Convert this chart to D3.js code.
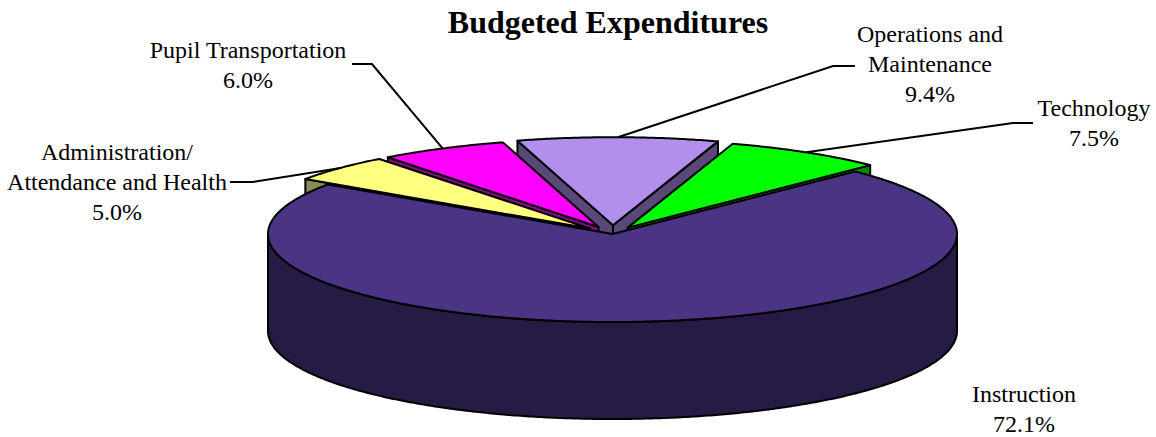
<!DOCTYPE html>
<html>
<head>
<meta charset="utf-8">
<script src="https://cdn.jsdelivr.net/npm/d3@7"></script>
<style>
  body { margin: 0; background: #ffffff; }
  svg { display: block; }
</style>
</head>
<body>
<svg id="chart" width="1156" height="437"></svg>
<script>
// ---- data ----
const categories = [
  "Administration/ Attendance and Health",
  "Pupil Transportation",
  "Operations and Maintenance",
  "Technology",
  "Instruction"
];
const labelLines = [
  ["Administration/", "Attendance and Health"],
  ["Pupil Transportation"],
  ["Operations and", "Maintenance"],
  ["Technology"],
  ["Instruction"]
];
const values = [5.0, 6.0, 9.4, 7.5, 72.1];

// ---- styling ----
const topColors  = ["#ffff80", "#ff00ff", "#b18fea", "#00ff00", "#4a3484"];
const sideColors = ["#8c8c50", "#8a008a", "#594878", "#008c00", "#261b45"];
const explode    = [0.09, 0.09, 0.10, 0.085, 0];

// ---- layout ----
const W = 1156, H = 437;
const cx = 612.5, cy = 234, rx = 344.5, ry = 88, depth = 97;
const START = -55.7 * Math.PI / 180;

// label anchors: first baseline, centre x, leader elbow + end
const labelLayout = [
  { x: 117,  y: 160, leader: [[253, 182], [230, 182]] },
  { x: 248,  y: 58,  leader: [[372, 64],  [352, 64]] },
  { x: 930,  y: 42,  leader: [[833, 66],  [855, 66]] },
  { x: 1094, y: 116, leader: [[1013, 123], [1033, 123]] },
  { x: 1024, y: 402, leader: null }
];
const lineGap = 30;

const svg = d3.select("#chart");

// projection of the tilted disc
const sx = d3.scaleLinear().domain([-1, 1]).range([cx - rx, cx + rx]);
const sy = d3.scaleLinear().domain([-1, 1]).range([cy - ry, cy + ry]);

const pie = d3.pie().sort(null).value(d => d)
  .startAngle(START).endAngle(START + 2 * Math.PI);
const arcs = pie(values).map((a, i) => {
  const mid = (a.startAngle + a.endAngle) / 2;
  const e = explode[i];
  return { ...a, i, mid, off: [e * Math.sin(mid), -e * Math.cos(mid)] };
});

function proj(angle, r, h, o) {
  return [sx(r * Math.sin(angle) + o[0]), sy(-r * Math.cos(angle) + o[1]) + h];
}
function arcPts(a0, a1, h, o) {
  const n = Math.max(2, Math.ceil(Math.abs(a1 - a0) / (Math.PI / 360)));
  const pts = [];
  for (let k = 0; k <= n; k++) {
    const a = a0 + (a1 - a0) * k / n;
    pts.push(proj(a, 1, h, o));
  }
  return pts;
}
const poly = pts => "M" + pts.map(p => p[0].toFixed(2) + "," + p[1].toFixed(2)).join("L") + "Z";

const gPie = svg.append("g");
const strokeW = 2;

function drawPoly(pts, fill) {
  gPie.append("path")
    .attr("d", poly(pts))
    .attr("fill", fill)
    .attr("stroke", "#000")
    .attr("stroke-width", strokeW)
    .attr("stroke-linejoin", "round");
}

function radialWall(a, angle) {
  return [proj(angle, 0, 0, a.off), proj(angle, 1, 0, a.off),
          proj(angle, 1, depth, a.off), proj(angle, 0, depth, a.off)];
}

const small = arcs.filter(a => a.i !== 4);
const big = arcs[4];

// radial walls that face the viewer, back to front
const walls = [];
small.forEach(a => {
  if (Math.cos(a.startAngle - Math.PI / 2) < 0) walls.push({ a, angle: a.startAngle });
  if (Math.cos(a.endAngle + Math.PI / 2) < 0) walls.push({ a, angle: a.endAngle });
});
walls.sort((p, q) => {
  const yp = proj(p.a.mid, 0.5, 0, p.a.off)[1];
  const yq = proj(q.a.mid, 0.5, 0, q.a.off)[1];
  return yp - yq;
});
walls.forEach(w => drawPoly(radialWall(w.a, w.angle), sideColors[w.a.i]));

// front rim wall of the large slice
{
  const a0 = Math.max(big.startAngle, Math.PI / 2);
  const a1 = Math.min(big.endAngle, 3 * Math.PI / 2);
  const topArc = arcPts(a0, a1, 0, big.off);
  const botArc = arcPts(a1, a0, depth, big.off);
  drawPoly(topArc.concat(botArc), sideColors[4]);
}

// top face of the large slice
drawPoly([proj(0, 0, 0, big.off)].concat(arcPts(big.startAngle, big.endAngle, 0, big.off)), topColors[4]);

// top faces of the exploded slices
small.forEach(a => {
  drawPoly([proj(0, 0, 0, a.off)].concat(arcPts(a.startAngle, a.endAngle, 0, a.off)), topColors[a.i]);
});

// ---- title ----
svg.append("text")
  .attr("x", 608).attr("y", 33)
  .attr("text-anchor", "middle")
  .attr("font-family", "'Liberation Serif', 'Times New Roman', serif")
  .attr("font-weight", "bold")
  .attr("font-size", 32)
  .attr("fill", "#000")
  .text("Budgeted Expenditures");

// ---- leader lines and labels ----
const fmt = d3.format(".1f");
arcs.forEach(a => {
  const L = labelLayout[a.i];
  if (L.leader) {
    const rim = proj(a.mid, 1, 0, a.off);
    svg.append("path")
      .attr("d", d3.line()([rim, L.leader[0], L.leader[1]]))
      .attr("fill", "none")
      .attr("stroke", "#000")
      .attr("stroke-width", 2);
  }
  const lines = labelLines[a.i].concat([fmt(values[a.i]) + "%"]);
  const t = svg.append("text")
    .attr("text-anchor", "middle")
    .attr("font-family", "'Liberation Serif', 'Times New Roman', serif")
    .attr("font-size", 24)
    .attr("fill", "#000");
  lines.forEach((s, k) => {
    t.append("tspan").attr("x", L.x).attr("y", L.y + k * lineGap).text(s);
  });
});
</script>
</body>
</html>
